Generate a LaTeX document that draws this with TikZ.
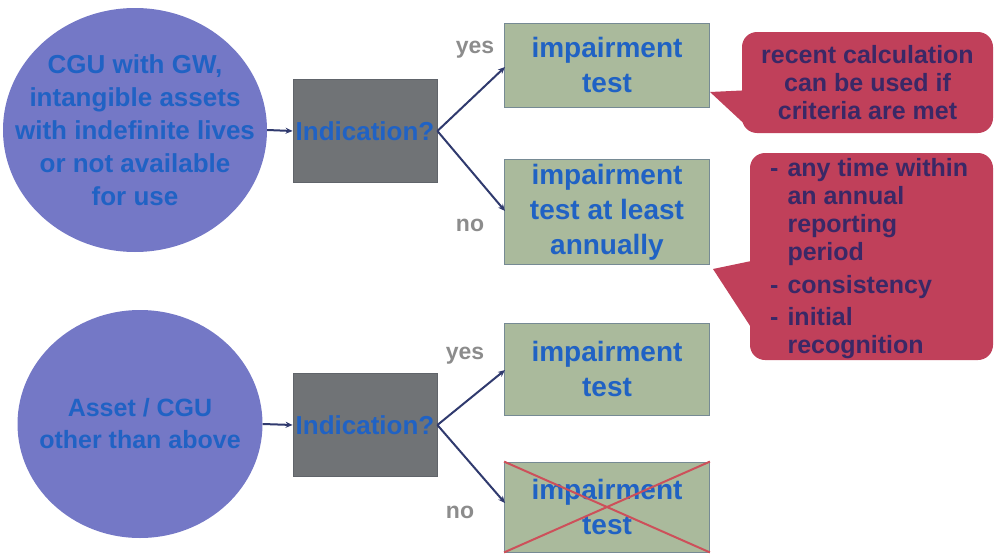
\documentclass[tikz,border=0pt]{standalone}
\usepackage{fontspec}
\setmainfont{Liberation Sans}
\usetikzlibrary{shapes.geometric,arrows.meta}
\definecolor{circfill}{RGB}{116,120,198}
\definecolor{txtblue}{RGB}{32,98,196}
\definecolor{grayfill}{RGB}{112,115,118}
\definecolor{grayline}{RGB}{96,100,106}
\definecolor{greenfill}{RGB}{170,186,156}
\definecolor{greenline}{RGB}{118,138,148}
\definecolor{redfill}{RGB}{192,64,90}
\definecolor{redtxt}{RGB}{58,40,102}
\definecolor{linecol}{RGB}{48,58,110}
\definecolor{labgray}{RGB}{140,140,140}
\definecolor{crossred}{RGB}{205,80,90}
\tikzset{
  startnode/.style={ellipse, fill=circfill, draw=none, inner sep=0pt},
  starttext/.style={inner sep=0pt, align=center,
     text=txtblue, font=\bfseries\fontsize{26}{33}\selectfont},
  decbox/.style={rectangle, fill=grayfill, draw=grayline, line width=0.8pt, minimum width=144pt,
     minimum height=103pt, inner sep=0pt, text=txtblue, font=\bfseries\fontsize{26}{33}\selectfont},
  resbox/.style={rectangle, fill=greenfill, draw=greenline, line width=0.8pt, minimum width=205pt,
     inner sep=0pt, align=center, text=txtblue, font=\bfseries\fontsize{28}{35}\selectfont},
  notebox/.style={rectangle, rounded corners=15pt, fill=redfill, draw=none, inner sep=0pt,
     text=redtxt, font=\bfseries\fontsize{25}{28}\selectfont},
  lab/.style={text=labgray, font=\bfseries\fontsize{23}{26}\selectfont, inner sep=0pt},
  conn/.style={draw=linecol, line width=2pt, -{Stealth[length=7pt,width=6pt]}},
}
\begin{document}
\begin{tikzpicture}[x=1pt,y=-1pt]
\useasboundingbox (0,0) rectangle (994,554);
% upper row
\node[startnode, minimum width=264pt, minimum height=244pt] (c1) at (135,130) {};
\node[starttext] (c1t) at (c1.center)
  {CGU with GW,\\intangible assets\\with indefinite lives\\or not available\\for use};
\node[decbox] (d1) at (365,131) {Indication?};
\node[resbox, minimum height=84pt] (r1) at (607,65) {impairment\\test};
\node[resbox, minimum height=105pt] (r2) at (607,212) {impairment\\test at least\\annually};
\coordinate (r1in) at (505,67);
\coordinate (r2in) at (505,211);
\draw[conn] (c1.east) -- (d1.west);
\draw[conn] (d1.east) -- (r1in);
\draw[conn] (d1.east) -- (r2in);
\node[lab] (y1) at (475,50) {yes};
\node[lab] (n1) at (470,225) {no};
% callout 1
\node[notebox, minimum width=251pt, minimum height=101pt, align=center] (k1) at (867.5,82.5)
  {recent calculation\\can be used if\\criteria are met};
\coordinate (k1tip) at (710,92);
\fill[redfill] (k1tip) -- (752,90) -- (752,131) -- cycle;
% callout 2
\node[notebox, minimum width=243pt, minimum height=207pt] (k2) at (871.5,256.5) {};
\coordinate (k2tip) at (713,269);
\fill[redfill] (k2tip) -- (756,260) -- (756,335) -- cycle;
\node[anchor=north west, inner sep=0pt, text=redtxt, font=\bfseries\fontsize{25}{28}\selectfont, align=left] (k2t) at (770,157)
  {\begin{tabular}{@{}l@{\hspace{9pt}}l@{}}
   -& any time within\\
    & an annual\\
    & reporting\\
    & period\\[5pt]
   -& consistency\\[4pt]
   -& initial\\
    & recognition
   \end{tabular}};
% lower row
\node[startnode, minimum width=245pt, minimum height=228pt] (c2) at (140,424) {};
\node[starttext, font=\bfseries\fontsize{25}{32}\selectfont] (c2t) at (c2.center)
  {Asset / CGU\\other than above};
\node[decbox] (d2) at (365,425) {Indication?};
\node[resbox, minimum height=92pt] (r3) at (607,369) {impairment\\test};
\node[resbox, minimum height=90pt] (r4) at (607,507) {impairment\\test};
\coordinate (r3in) at (505,370);
\coordinate (r4in) at (505,503);
\draw[conn] (c2.east) -- (d2.west);
\draw[conn] (d2.east) -- (r3in);
\draw[conn] (d2.east) -- (r4in);
\node[lab] (y2) at (465,356) {yes};
\node[lab] (n2) at (460,512) {no};
\draw[crossred, line width=2pt] (r4.north west) -- (r4.south east);
\draw[crossred, line width=2pt] (r4.south west) -- (r4.north east);
\end{tikzpicture}
\end{document}
